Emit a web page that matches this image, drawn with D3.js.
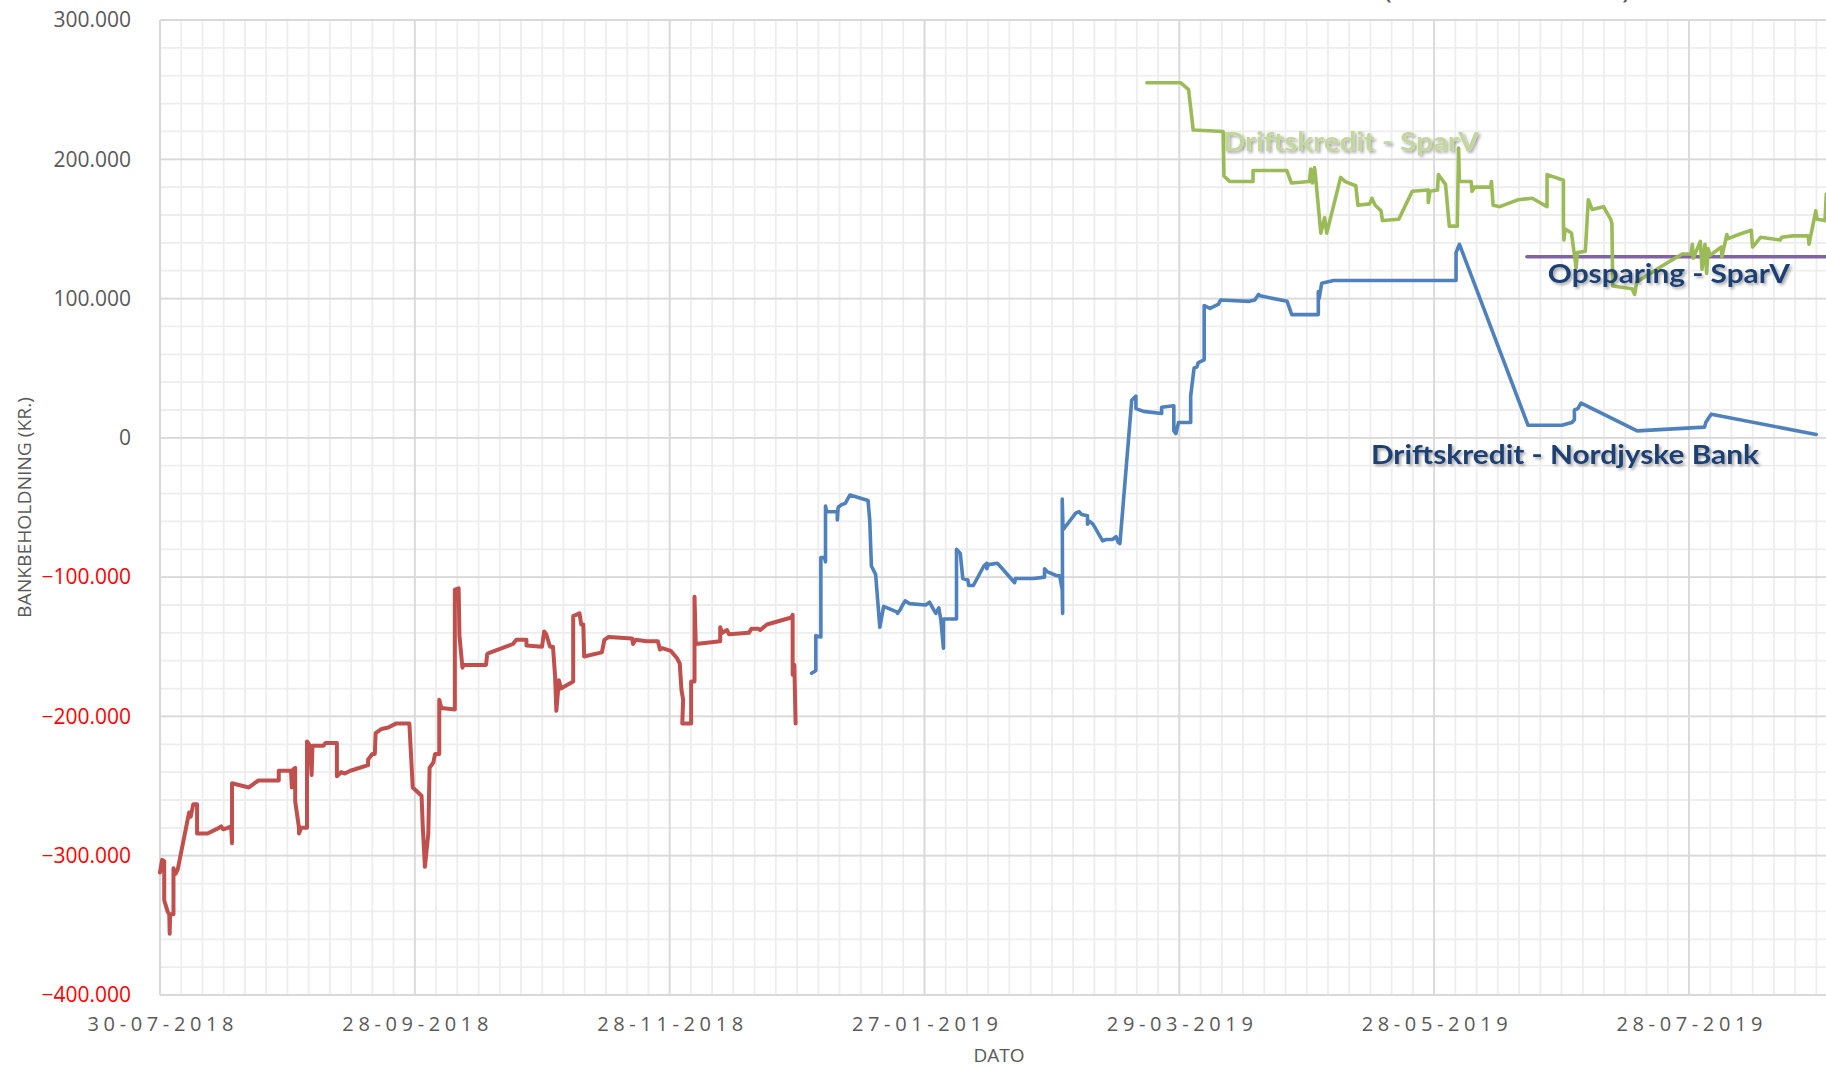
<!DOCTYPE html>
<html>
<head>
<meta charset="utf-8">
<script src="https://cdn.jsdelivr.net/npm/d3@7"></script>
<style>
  body { margin: 0; background: #fff; }
  svg { display: block; }
</style>
</head>
<body>
<div id="chart"></div>
<script>
// x = dage efter 30-07-2018, y = tusind kr.
const xTickDays = [0, 60.5, 121, 181.5, 242, 302.5, 363];
const xTickLabels = ["30-07-2018", "28-09-2018", "28-11-2018", "27-01-2019", "29-03-2019", "28-05-2019", "28-07-2019"];
const yTicks = [-400, -300, -200, -100, 0, 100, 200, 300];

// Driftskredit - Nordjyske Bank (rød del)
const redSeries = [
  [0,-312],[0.5,-303],[1,-304],[1,-332],[1.8,-340],[2.2,-342],[2.3,-356],[2.4,-342],[3.2,-342],[3.2,-309],[3.7,-313],[4.2,-310],
  [6.9,-269],[7.3,-272],[7.9,-263],[8.8,-263],[8.8,-284],[11.3,-284],[14,-280],[14.5,-279],[15,-281],[16.1,-280],[16.9,-279],[17.1,-291],[17.1,-248],
  [21.1,-251],[22.4,-248],[23.4,-246],[28.2,-246],[28.2,-239],[31.1,-239],[31.3,-251],[31.6,-238],[32.1,-237],[32.1,-261],[33,-280],[33,-284],
  [33.5,-280],[34.9,-280],[34.9,-218],[35.6,-221],[36,-242],[36.2,-221],[38.8,-221],[39.3,-219],[42,-219],[42,-243],[43,-240],[43.9,-241],
  [45.2,-239],[49.4,-235],[49.4,-231],[50.4,-227],[51,-227],[51.2,-212],[52.6,-209],[54.2,-208],[56.1,-205],[59.2,-205],[60,-251],[62.1,-257],
  [62.4,-280],[62.9,-308],[63.7,-284],[64,-237],[64.9,-233],[65.3,-227],[66.3,-227],[66.3,-188],[66.8,-194],[70,-195],[70,-109],[70.9,-108],
  [71.1,-142],[71.8,-165],[72.1,-163],[77.4,-163],[77.7,-155],[78.5,-154],[83.8,-148],[84.6,-145],[87,-145],[87,-149],[90.7,-150],[91.2,-139],
  [91.7,-141],[92.6,-150],[93.3,-150],[93.8,-171],[94.1,-196],[94.7,-174],[95.2,-180],[98.1,-175],[98.1,-128],[99.6,-126],[100,-134],[100.5,-134],
  [100.7,-157],[104.9,-154],[105.5,-145],[106.5,-143],[112.1,-144],[112.3,-148],[112.9,-145],[115.5,-146],[118.2,-146],[118.7,-152],[119.2,-151],
  [121.3,-153],[122.7,-158],[123.4,-162],[123.8,-181],[124.2,-188],[124,-205],[126.1,-205],[126.1,-175],[126.9,-175],[126.9,-114],[127.2,-148],
  [133,-146],[133,-136],[133.5,-140],[134.6,-138],[135.1,-141],[139.8,-140],[140.4,-137],[142,-137],[142.5,-138],[144.1,-134],[149.9,-129],
  [150.2,-127],[150.2,-160],[150.2,-170],[150.6,-163],[150.9,-205]
];

// Driftskredit - Nordjyske Bank (blå del)
const blueSeries = [
  [154.7,-169],[155.7,-167],[155.7,-142],[156.9,-143],[156.9,-86],[157.8,-86],[158,-89],[158,-49],[158.3,-53],[160.8,-53],[160.8,-59],[161,-50],
  [161.8,-48],[162.7,-47],[163.8,-41],[168.1,-45],[168.5,-59],[168.9,-92],[169.9,-98],[170.9,-136],[171.8,-121],[174.9,-125],[175.1,-126],
  [175.8,-123],[176.3,-120],[176.9,-117],[177.9,-119],[181.8,-120],[182.7,-118],[183.8,-124],[184.2,-126],[184.9,-122],[185.4,-131],[186,-151],
  [186,-130],[189.1,-130],[189.1,-80],[190,-83],[190.6,-101],[191.8,-102],[192,-106],[193.1,-106],[195.6,-92],[196.3,-90],[196.3,-94],[196.7,-91],
  [198.8,-90],[200,-94],[202.9,-104],[203.1,-101],[207.4,-101],[210,-100],[210,-94],[210.6,-96],[212.9,-99],[213.6,-99],[214.2,-109],[214.3,-126],
  [214.2,-44],[214.4,-66],[217.4,-54],[218.2,-53],[218.8,-55],[220.2,-56],[220.2,-62],[220.7,-60],[221.5,-62],[223.8,-74],[224.6,-73],[226.1,-73],
  [227,-71],[227.5,-75],[227.9,-76],[230.7,27],[231.7,30],[231.7,21],[233.5,19],[237.8,17.5],[237.8,22],[240.7,23],[240.7,5],[241.2,3],[241.8,11],
  [244.7,11],[244.7,30],[245.5,50],[246.2,51],[246.5,54],[247.9,56],[247.9,95],[249.3,93],[251.3,96],[251.8,99],[258.6,98],[259.9,99],[260.8,103],
  [261.2,102],[267.6,98],[268.7,88.5],[275,88.5],[275,105],[275.2,100],[275.8,111],[278.6,113],[307.7,113],[307.7,133],[308.5,139],[324.8,9],
  [332.8,9],[335.2,11],[335.8,13],[335.8,20],[336.6,21],[337.4,25],[350.7,5],[366.7,7.7],[367,11],[367.7,14.4],[368.3,17],[393.2,2.4]
];

// Driftskredit - SparV
const greenSeries = [
  [234.3,255],[242.3,255],[244.2,250],[245.3,221],[252.4,220],[252.6,188],[254,184],[259.5,184],[259.5,192],[267.5,192],[268.6,183],[272.9,184],
  [273.2,193],[273.6,183],[274.1,194],[274.3,189],[275.6,147],[276.5,158],[277,147],[280.3,187],[281.4,184],[283.9,181],[284.4,167],[287.2,168],
  [287.7,172],[288.5,167],[289.9,163],[290.2,156],[294.1,157],[297.3,177],[301.1,178],[301.1,169],[301.5,177],[303.3,178],[303.5,189],[305.2,182],
  [306.1,152],[308,152],[308.3,208],[308.5,184],[311.3,184],[311.5,177],[312.1,180],[315.9,180],[316.1,184],[316.5,167],[318.1,166],[322.5,171],
  [325.8,172],[329.3,166],[329.3,189],[333.2,185],[333.2,155],[333.3,142],[333.6,150],[335.1,147],[336,127],[336.2,122],[336.5,133],[338.4,134],
  [339.1,171],[340,164],[342.7,166],[344.4,157],[344.7,154],[344.9,109],[349.5,107],[350.1,103],[350.6,112],[356.4,123],[361.4,132],[363.5,132],
  [363.8,139],[364,129],[365.7,141],[366.1,121],[366.8,139],[367.2,118],[367.5,136],[368,131],[370.7,137],[370.8,130],[372,146],[372.3,143],
  [374.8,146],[377.8,149],[378.1,137],[380,144],[384.7,142],[385,144],[387.6,145],[391.3,145],[391.5,139],[393.1,163],[393.4,157],[395.3,156],
  [395.6,175],[397,176]
];

// Opsparing - SparV
const purpleSeries = [[324.5,130],[400,130]];

const seriesLabels = [
  {text: "Driftskredit - SparV", day: 252.3, val: 206, len: 256, fill: "#c3d69b"},
  {text: "Opsparing - SparV", day: 329.5, val: 111, len: 242, fill: "#1f3f73"},
  {text: "Driftskredit - Nordjyske Bank", day: 287.5, val: -19, len: 388, fill: "#1f3f73"}
];

const width = 1826, height = 1069;
const plotLeft = 160, plotTop = 20, plotBottom = 995;

const x = d3.scaleLinear().domain([0, 398.5]).range([plotLeft, 1838.5]);
const y = d3.scaleLinear().domain([-400, 300]).range([plotBottom, plotTop]);

const svg = d3.select("#chart").append("svg")
    .attr("width", width)
    .attr("height", height)
    .style("font-family", "'Open Sans', sans-serif");

const defs = svg.append("defs");
defs.append("filter")
    .attr("id", "shadow")
    .attr("x", "-10%").attr("y", "-30%")
    .attr("width", "120%").attr("height", "160%")
  .append("feDropShadow")
    .attr("dx", 2).attr("dy", 2)
    .attr("stdDeviation", 1.6)
    .attr("flood-color", "#000")
    .attr("flood-opacity", 0.35);

// grid
const step = 60.5 / 12;
const minorX = d3.range(0, 400, step);
const minorY = d3.range(-400, 301, 20);

const grid = svg.append("g");
grid.selectAll(".vx").data(minorX).join("line")
    .attr("x1", d => x(d)).attr("x2", d => x(d))
    .attr("y1", plotTop).attr("y2", plotBottom)
    .attr("stroke", "#ededed").attr("stroke-width", 1.8);
grid.selectAll(".hy").data(minorY).join("line")
    .attr("x1", plotLeft).attr("x2", width)
    .attr("y1", d => y(d)).attr("y2", d => y(d))
    .attr("stroke", "#ededed").attr("stroke-width", 1.8);
grid.selectAll(".vmaj").data(xTickDays).join("line")
    .attr("x1", d => x(d)).attr("x2", d => x(d))
    .attr("y1", plotTop).attr("y2", plotBottom)
    .attr("stroke", "#d9d9d9").attr("stroke-width", 1.8);
grid.selectAll(".hmaj").data(yTicks).join("line")
    .attr("x1", plotLeft).attr("x2", width)
    .attr("y1", d => y(d)).attr("y2", d => y(d))
    .attr("stroke", "#d9d9d9").attr("stroke-width", 1.8);

// axis lines
svg.append("line").attr("x1", plotLeft).attr("x2", plotLeft).attr("y1", plotTop).attr("y2", plotBottom)
    .attr("stroke", "#d9d9d9").attr("stroke-width", 2.2);
svg.append("line").attr("x1", plotLeft).attr("x2", width).attr("y1", plotBottom).attr("y2", plotBottom)
    .attr("stroke", "#d9d9d9").attr("stroke-width", 2.2);

// y axis
const dk = d3.formatLocale({decimal: ",", thousands: ".", grouping: [3], currency: ["", ""]});
const fmt = dk.format(",");
const yAxis = svg.append("g")
    .attr("transform", `translate(${plotLeft},0)`)
    .call(d3.axisLeft(y).tickValues(yTicks).tickSize(0).tickPadding(29).tickFormat(d => fmt(d * 1000)));
yAxis.select(".domain").remove();
yAxis.selectAll("text")
    .style("font-size", "21px")
    .style("font-family", "'Open Sans', sans-serif")
    .attr("fill", d => d < 0 ? "#ff0000" : "#595959");

// x axis
const xAxis = svg.append("g")
    .attr("transform", `translate(0,${plotBottom})`)
    .call(d3.axisBottom(x).tickValues(xTickDays).tickSize(0).tickFormat((d, i) => xTickLabels[i]));
xAxis.select(".domain").remove();
xAxis.selectAll("text")
    .attr("y", 36).attr("dy", 0)
    .attr("fill", "#595959")
    .style("font-size", "20px")
    .style("font-family", "'Open Sans', sans-serif")
    .attr("textLength", 146)
    .attr("lengthAdjust", "spacing");

// axis titles
svg.append("text")
    .attr("transform", `translate(31,${(plotTop + plotBottom) / 2}) rotate(-90)`)
    .attr("text-anchor", "middle")
    .attr("fill", "#595959")
    .style("font-size", "19px")
    .attr("textLength", 221)
    .attr("lengthAdjust", "spacingAndGlyphs")
    .text("BANKBEHOLDNING (KR.)");
svg.append("text")
    .attr("x", 999).attr("y", 1062)
    .attr("text-anchor", "middle")
    .attr("fill", "#595959")
    .style("font-size", "19px")
    .text("DATO");

// title (only the parentheses reach into the picture)
svg.append("text").attr("x", 1383).attr("y", -2).attr("fill", "#595959")
    .style("font-size", "30px").text("(");
svg.append("text").attr("x", 1622).attr("y", -2).attr("fill", "#595959")
    .style("font-size", "30px").text(")");

// lines
const line = d3.line().x(d => x(d[0])).y(d => y(d[1]));
const lines = [
  {data: redSeries, color: "#c0504d", w: 4},
  {data: blueSeries, color: "#4f81bd", w: 3.6},
  {data: purpleSeries, color: "#8064a2", w: 3.4},
  {data: greenSeries, color: "#9bbb59", w: 3.6}
];
svg.append("g").selectAll("path").data(lines).join("path")
    .attr("d", d => line(d.data))
    .attr("fill", "none")
    .attr("stroke", d => d.color)
    .attr("stroke-width", d => d.w)
    .attr("stroke-linejoin", "round")
    .attr("stroke-linecap", "round");

// series labels
svg.append("g").selectAll("text").data(seriesLabels).join("text")
    .attr("x", d => x(d.day))
    .attr("y", d => y(d.val))
    .attr("fill", d => d.fill)
    .attr("filter", "url(#shadow)")
    .style("font-family", "Lato, 'Open Sans', sans-serif")
    .style("font-weight", "bold")
    .style("font-size", "27px")
    .attr("textLength", d => d.len)
    .attr("lengthAdjust", "spacingAndGlyphs")
    .text(d => d.text);
</script>
</body>
</html>
